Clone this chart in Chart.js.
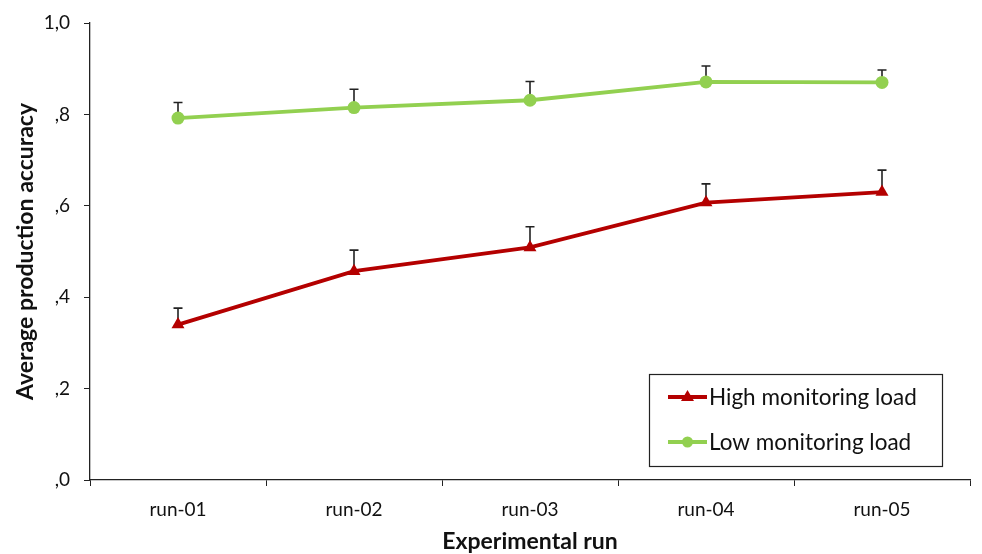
<!DOCTYPE html>
<html>
<head>
<meta charset="utf-8">
<script src="https://cdn.jsdelivr.net/npm/chart.js@4.4.1/dist/chart.umd.min.js"></script>
<style>
html,body{margin:0;padding:0;background:#fff;}
#wrap{width:982px;height:554px;position:relative;}
</style>
</head>
<body>
<div id="wrap"><canvas id="c" width="982" height="554"></canvas></div>
<script>
const categories = ['run-01','run-02','run-03','run-04','run-05'];
const highValues = [0.340, 0.457, 0.509, 0.607, 0.630];
const highErrTop = [0.376, 0.503, 0.554, 0.648, 0.678];
const lowValues  = [0.792, 0.815, 0.831, 0.871, 0.870];
const lowErrTop  = [0.826, 0.855, 0.872, 0.906, 0.897];
const yTicks = [0, 0.2, 0.4, 0.6, 0.8, 1.0];

const FONT = 'Lato, "Open Sans", sans-serif';
const RED = '#B40000';
const GREEN = '#92D050';

const errorBars = {
  id: 'errorBars',
  beforeDatasetsDraw(chart) {
    const ctx = chart.ctx;
    const y = chart.scales.y;
    chart.data.datasets.forEach((ds, i) => {
      const meta = chart.getDatasetMeta(i);
      ctx.save();
      ctx.strokeStyle = '#222';
      ctx.lineWidth = 1.6;
      meta.data.forEach((pt, j) => {
        const top = y.getPixelForValue(ds.errTop[j]);
        ctx.beginPath();
        ctx.moveTo(pt.x, pt.y);
        ctx.lineTo(pt.x, top);
        ctx.moveTo(pt.x - 4.5, top);
        ctx.lineTo(pt.x + 4.5, top);
        ctx.stroke();
      });
      ctx.restore();
    });
  }
};

const boxLegend = {
  id: 'boxLegend',
  afterDraw(chart) {
    const ctx = chart.ctx;
    ctx.save();
    ctx.strokeStyle = '#222';
    ctx.lineWidth = 1.2;
    ctx.strokeRect(649.5, 374.5, 293, 92);
    const rows = [397, 442];
    chart.data.datasets.forEach((ds, i) => {
      const yy = rows[i];
      ctx.strokeStyle = ds.borderColor;
      ctx.lineWidth = 3.8;
      ctx.beginPath();
      ctx.moveTo(668, yy);
      ctx.lineTo(707, yy);
      ctx.stroke();
      ctx.fillStyle = ds.borderColor;
      if (ds.pointStyle === 'triangle') {
        ctx.beginPath();
        ctx.moveTo(687.5, yy - 7);
        ctx.lineTo(694, yy + 4);
        ctx.lineTo(681, yy + 4);
        ctx.closePath();
        ctx.fill();
      } else {
        ctx.beginPath();
        ctx.arc(687.5, yy, 5.5, 0, Math.PI * 2);
        ctx.fill();
      }
      ctx.fillStyle = '#111';
      ctx.font = '22.5px ' + FONT;
      ctx.textBaseline = 'middle';
      ctx.textAlign = 'left';
      ctx.fillText(ds.label, 709, yy + 1);
    });
    ctx.restore();
  }
};

new Chart(document.getElementById('c'), {
  type: 'line',
  data: {
    labels: categories,
    datasets: [
      {
        label: 'High monitoring load',
        data: highValues,
        errTop: highErrTop,
        borderColor: RED,
        backgroundColor: RED,
        borderWidth: 3.8,
        pointStyle: 'triangle',
        pointRadius: 7.5,
        pointBorderWidth: 0,
        tension: 0
      },
      {
        label: 'Low monitoring load',
        data: lowValues,
        errTop: lowErrTop,
        borderColor: GREEN,
        backgroundColor: GREEN,
        borderWidth: 3.8,
        pointStyle: 'circle',
        pointRadius: 6.5,
        pointBorderWidth: 0,
        tension: 0
      }
    ]
  },
  options: {
    responsive: false,
    animation: false,
    layout: { padding: { top: 23, right: 12, left: 0, bottom: 0 } },
    plugins: {
      legend: { display: false },
      tooltip: { enabled: false }
    },
    scales: {
      x: {
        offset: true,
        grid: { display: true, drawOnChartArea: false, drawTicks: true, tickLength: 6, color: '#222', offset: true },
        border: { display: true, color: '#222', width: 1.3 },
        ticks: { color: '#111', font: { family: FONT, size: 19 }, padding: 12, maxRotation: 0 },
        title: { display: true, text: 'Experimental run', color: '#111', font: { family: FONT, size: 23, weight: 'bold' }, padding: { top: 0, bottom: -1 } },
        afterFit(s) { s.height = 74; s.paddingLeft = 0; s.paddingRight = 0; }
      },
      y: {
        min: 0, max: 1,
        afterBuildTicks(s) { s.ticks = yTicks.map(v => ({ value: v })); },
        grid: { display: true, drawOnChartArea: false, drawTicks: true, tickLength: 6, color: '#222' },
        border: { display: true, color: '#222', width: 1.3 },
        ticks: {
          color: '#111', font: { family: FONT, size: 19 }, padding: 14,
          callback: v => v.toFixed(1).replace('.', ',').replace(/^0/, '')
        },
        title: { display: true, text: 'Average production accuracy', color: '#111', font: { family: FONT, size: 23, weight: 'bold' }, padding: { bottom: 0, top: 12 } },
        afterFit(s) { s.width = 90; s.paddingTop = 0; s.paddingBottom = 0; }
      }
    }
  },
  plugins: [errorBars, boxLegend]
});
</script>
</body>
</html>
